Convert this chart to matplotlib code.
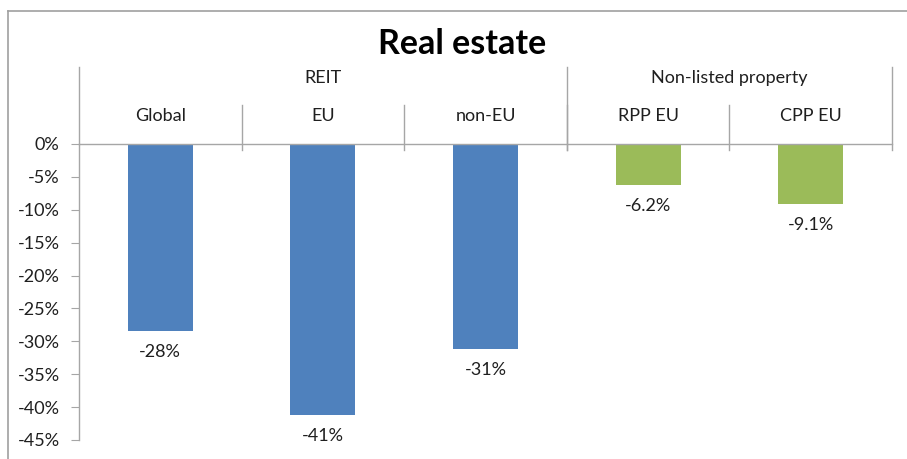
import matplotlib
matplotlib.use('Agg')
from matplotlib import pyplot as plt
from matplotlib.lines import Line2D

plt.rcParams['font.family'] = ['Lato', 'DejaVu Sans']

# Chart data
groups = ['REIT', 'Non-listed property']
group_sizes = [3, 2]
categories = ['Global', 'EU', 'non-EU', 'RPP EU', 'CPP EU']
values = [-28.4, -41.2, -31.1, -6.2, -9.1]
value_labels = ['-28%', '-41%', '-31%', '-6.2%', '-9.1%']
bar_colors = ['#4F81BD', '#4F81BD', '#4F81BD', '#9BBB59', '#9BBB59']
y_ticks = [0, -5, -10, -15, -20, -25, -30, -35, -40, -45]

W, H = 907, 459
fig = plt.figure(figsize=(W / 100, H / 100), dpi=100)

# axes placed in pixel terms of the original
x0, x1, y0, y1 = 79, 892, 144, 440
ax = fig.add_axes([x0 / W, 1 - y1 / H, (x1 - x0) / W, (y1 - y0) / H])
px = 45 / (y1 - y0)  # data units per pixel vertically

grid_col = '#A6A6A6'
text_col = '#1F1F1F'
fs = 13

xs = [i + 0.5 for i in range(len(categories))]
ax.bar(xs, values, width=0.4, color=bar_colors)
ax.set_xlim(0, len(categories))
ax.set_ylim(-45, 0)

for x, v, lab in zip(xs, values, value_labels):
    ax.text(x, v - 21 * px, lab, ha='center', va='center', fontsize=fs, color=text_col)

ax.set_yticks(y_ticks)
ax.set_yticklabels([f'{t}%' for t in y_ticks])
ax.tick_params(axis='y', length=6, color=grid_col, labelsize=fs, labelcolor=text_col, pad=8)
ax.set_xticks([])
for s in ['bottom', 'right']:
    ax.spines[s].set_visible(False)
for s in ['left', 'top']:
    ax.spines[s].set_color(grid_col)
    ax.spines[s].set_linewidth(1)

# category labels and dividers above the zero line
for i, cat in enumerate(categories):
    ax.text(xs[i], (y0 - 116) * px, cat, ha='center', va='center', fontsize=fs, color=text_col)
for b in range(1, len(categories)):
    ax.plot([b, b], [-6 * px, (y0 - 105) * px], color=grid_col, lw=1, clip_on=False)

start = 0
bounds = [0]
for name, n in zip(groups, group_sizes):
    ax.text(start + n / 2, (y0 - 78) * px, name, ha='center', va='center', fontsize=fs, color=text_col)
    start += n
    bounds.append(start)
for b in bounds:
    ax.plot([b, b], [-6 * px if b else 0, (y0 - 67) * px], color=grid_col, lw=1, clip_on=False)

fig.text(462 / W, 1 - 44 / H, 'Real estate', ha='center', va='center', fontsize=24.5,
         fontweight='bold', color='black')

# chart area frame (top and left edges visible)
fig.add_artist(Line2D([8 / W, 1], [1 - 11 / H, 1 - 11 / H], color='#A0A0A0', lw=1.2))
fig.add_artist(Line2D([8 / W, 8 / W], [0, 1 - 11 / H], color='#A0A0A0', lw=1.2))

fig.savefig('out.png', dpi=100)
